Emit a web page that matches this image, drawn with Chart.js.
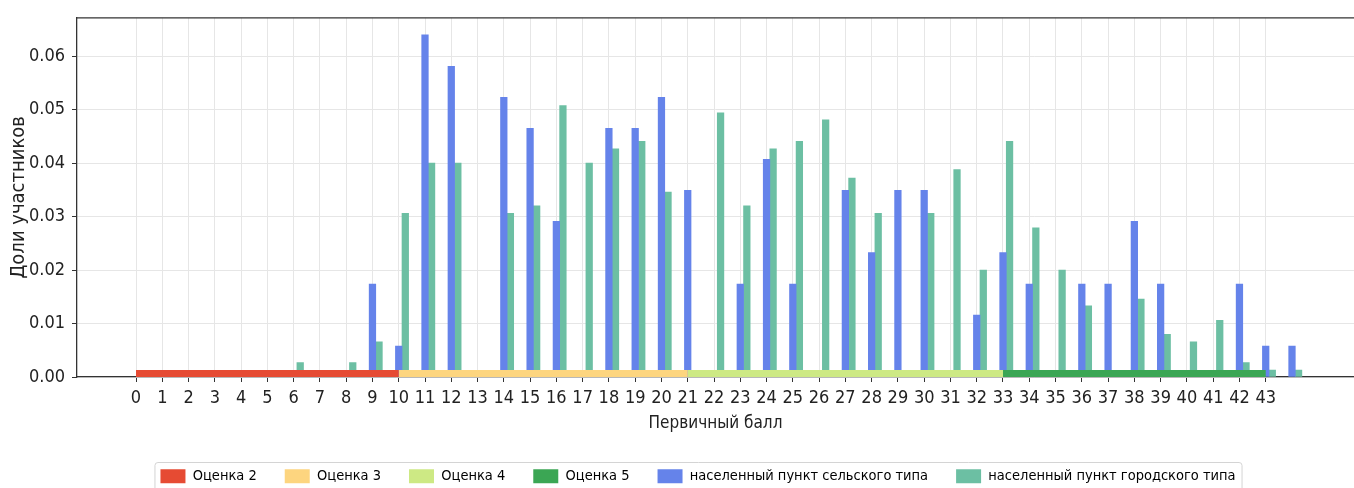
<!DOCTYPE html>
<html lang="ru">
<head>
    <meta charset="UTF-8">
    <title>Доли участников по первичному баллу</title>
    <script src="https://cdn.jsdelivr.net/npm/chart.js"></script>
    <style>
        html, body {
            margin: 0;
            padding: 0;
            background: #fff;
        }
        #wrap {
            width: 1354px;
            height: 488px;
        }
    </style>
</head>
<body>
    <div id="wrap"><canvas id="scoreChart"></canvas></div>

    <script>
        // первичный балл (0..44)
        const scores = [0, 1, 2, 3, 4, 5, 6, 7, 8, 9, 10, 11, 12, 13, 14, 15, 16, 17, 18, 19, 20, 21,
            22, 23, 24, 25, 26, 27, 28, 29, 30, 31, 32, 33, 34, 35, 36, 37, 38, 39, 40, 41, 42, 43, 44];

        // доли участников, сельский тип
        const rural = [0, 0, 0, 0, 0, 0, 0, 0, 0, 0.0174, 0.0058, 0.0640, 0.0581, 0, 0.0523, 0.0465,
            0.0291, 0, 0.0465, 0.0465, 0.0523, 0.0349, 0, 0.0174, 0.0407, 0.0174, 0, 0.0349, 0.0233,
            0.0349, 0.0349, 0, 0.0116, 0.0233, 0.0174, 0, 0.0174, 0.0174, 0.0291, 0.0174, 0, 0,
            0.0174, 0.0058, 0.0058];

        // доли участников, городской тип
        const urban = [0, 0, 0, 0, 0, 0, 0.0027, 0, 0.0027, 0.0066, 0.0306, 0.0400, 0.0400, 0, 0.0306,
            0.0320, 0.0508, 0.0400, 0.0427, 0.0441, 0.0346, 0, 0.0494, 0.0320, 0.0427, 0.0441, 0.0481,
            0.0372, 0.0306, 0, 0.0306, 0.0388, 0.0200, 0.0441, 0.0279, 0.0200, 0.0133, 0, 0.0146,
            0.0080, 0.0066, 0.0106, 0.0027, 0.0013, 0.0013];

        // границы оценок по первичному баллу
        const gradeLabels = ['Оценка 2', 'Оценка 3', 'Оценка 4', 'Оценка 5'];
        const gradeFrom = [0, 10, 21, 33];
        const gradeTo = [10, 21, 33, 43];

        // подписи осей
        const xTickValues = [0, 1, 2, 3, 4, 5, 6, 7, 8, 9, 10, 11, 12, 13, 14, 15, 16, 17, 18, 19, 20, 21,
            22, 23, 24, 25, 26, 27, 28, 29, 30, 31, 32, 33, 34, 35, 36, 37, 38, 39, 40, 41, 42, 43];
        const yTickValues = [0, 0.01, 0.02, 0.03, 0.04, 0.05, 0.06];

        const gradeColors = ['#e64b33', '#fdd57f', '#cde984', '#3ba654'];
        const ruralColor = '#6583ea';
        const urbanColor = '#6cbfa3';
        const FONT = '"Liberation Sans Narrow", "DejaVu Sans Condensed", "DejaVu Sans", sans-serif';
        const stripeY = 0.00065;   // полоса оценок у оси
        const barShift = 0.25;     // городской столбик правее сельского
        const legendShift = 21;    // легенда чуть правее центра

        Chart.defaults.font.family = FONT;
        Chart.defaults.color = '#222';

        const datasets = [];
        gradeLabels.forEach((label, i) => {
            datasets.push({
                type: 'line',
                label: label,
                data: [{ x: gradeFrom[i], y: stripeY }, { x: gradeTo[i], y: stripeY }],
                borderColor: gradeColors[i],
                backgroundColor: gradeColors[i],
                borderWidth: 7,
                borderCapStyle: 'butt',
                pointRadius: 0,
                order: 0
            });
        });
        datasets.push({
            type: 'bar',
            label: 'населенный пункт сельского типа',
            data: scores.map((s, i) => ({ x: s, y: rural[i] || null })),
            backgroundColor: ruralColor,
            barThickness: 6.6,
            grouped: false,
            order: 1
        });
        datasets.push({
            type: 'bar',
            label: 'населенный пункт городского типа',
            data: scores.map((s, i) => ({ x: s + barShift, y: urban[i] || null })),
            backgroundColor: urbanColor,
            barThickness: 6.6,
            grouped: false,
            order: 1
        });

        // рамка сверху и рамка вокруг легенды
        const framePlugin = {
            id: 'frame',
            afterLayout(chart) {
                chart.legend.left += legendShift;
                chart.legend.right += legendShift;
            },
            afterDraw(chart) {
                const ctx = chart.ctx;
                const a = chart.chartArea;
                ctx.save();
                ctx.strokeStyle = '#333';
                ctx.lineWidth = 1.3;
                ctx.beginPath();
                ctx.moveTo(a.left, a.top);
                ctx.lineTo(a.right, a.top);
                ctx.stroke();

                const boxes = chart.legend.legendHitBoxes;
                if (boxes && boxes.length) {
                    const first = boxes[0];
                    const last = boxes[boxes.length - 1];
                    const x0 = first.left - 6;
                    const x1 = last.left + last.width + 6;
                    const y0 = first.top - 7;
                    const y1 = chart.height + 10;
                    ctx.strokeStyle = '#d4d4d4';
                    ctx.lineWidth = 1;
                    ctx.beginPath();
                    ctx.roundRect(x0 + 0.5, y0 + 0.5, x1 - x0, y1 - y0, 3);
                    ctx.stroke();
                }
                ctx.restore();
            }
        };

        const ctx = document.getElementById('scoreChart').getContext('2d');
        const scoreChart = new Chart(ctx, {
            type: 'bar',
            data: { datasets: datasets },
            options: {
                responsive: true,
                maintainAspectRatio: false,
                animation: false,
                layout: {
                    padding: { top: 15, right: 0, bottom: 0, left: 0 }
                },
                scales: {
                    x: {
                        type: 'linear',
                        min: -2.246,
                        max: 46.36,
                        offset: false,
                        afterBuildTicks: (scale) => {
                            scale.ticks = xTickValues.map(v => ({ value: v }));
                        },
                        afterFit: (scale) => {
                            scale.height = 64;
                        },
                        ticks: {
                            autoSkip: false,
                            maxRotation: 0,
                            padding: 6,
                            color: '#222',
                            font: { size: 18 },
                            callback: (v) => String(v)
                        },
                        grid: {
                            offset: false,
                            color: '#e6e6e6',
                            tickColor: '#333',
                            tickLength: 5,
                            lineWidth: 1
                        },
                        border: { color: '#333', width: 1.3 },
                        title: {
                            display: true,
                            text: 'Первичный балл',
                            color: '#222',
                            font: { size: 17 },
                            padding: { top: 4, bottom: 7 }
                        }
                    },
                    y: {
                        min: 0,
                        max: 0.0672,
                        afterBuildTicks: (scale) => {
                            scale.ticks = yTickValues.map(v => ({ value: v }));
                        },
                        afterFit: (scale) => {
                            scale.width = 77;
                        },
                        ticks: {
                            padding: 7,
                            color: '#222',
                            font: { size: 18 },
                            callback: (v) => v.toFixed(2)
                        },
                        grid: {
                            color: '#e6e6e6',
                            tickColor: '#333',
                            tickLength: 5,
                            lineWidth: 1
                        },
                        border: { color: '#333', width: 1.3 },
                        title: {
                            display: true,
                            text: 'Доли участников',
                            color: '#222',
                            font: { size: 20 },
                            padding: { top: 7, bottom: 4 }
                        }
                    }
                },
                plugins: {
                    tooltip: { enabled: false },
                    legend: {
                        position: 'bottom',
                        maxHeight: 47,
                        labels: {
                            boxWidth: 25,
                            boxHeight: 14,
                            padding: 28,
                            color: '#222',
                            font: { size: 14.5 },
                            generateLabels: (chart) => chart.data.datasets.map((ds, i) => ({
                                text: ds.label,
                                fillStyle: ds.backgroundColor,
                                strokeStyle: ds.backgroundColor,
                                lineWidth: 0,
                                hidden: false,
                                datasetIndex: i
                            }))
                        }
                    }
                }
            },
            plugins: [framePlugin]
        });
    </script>
</body>
</html>
